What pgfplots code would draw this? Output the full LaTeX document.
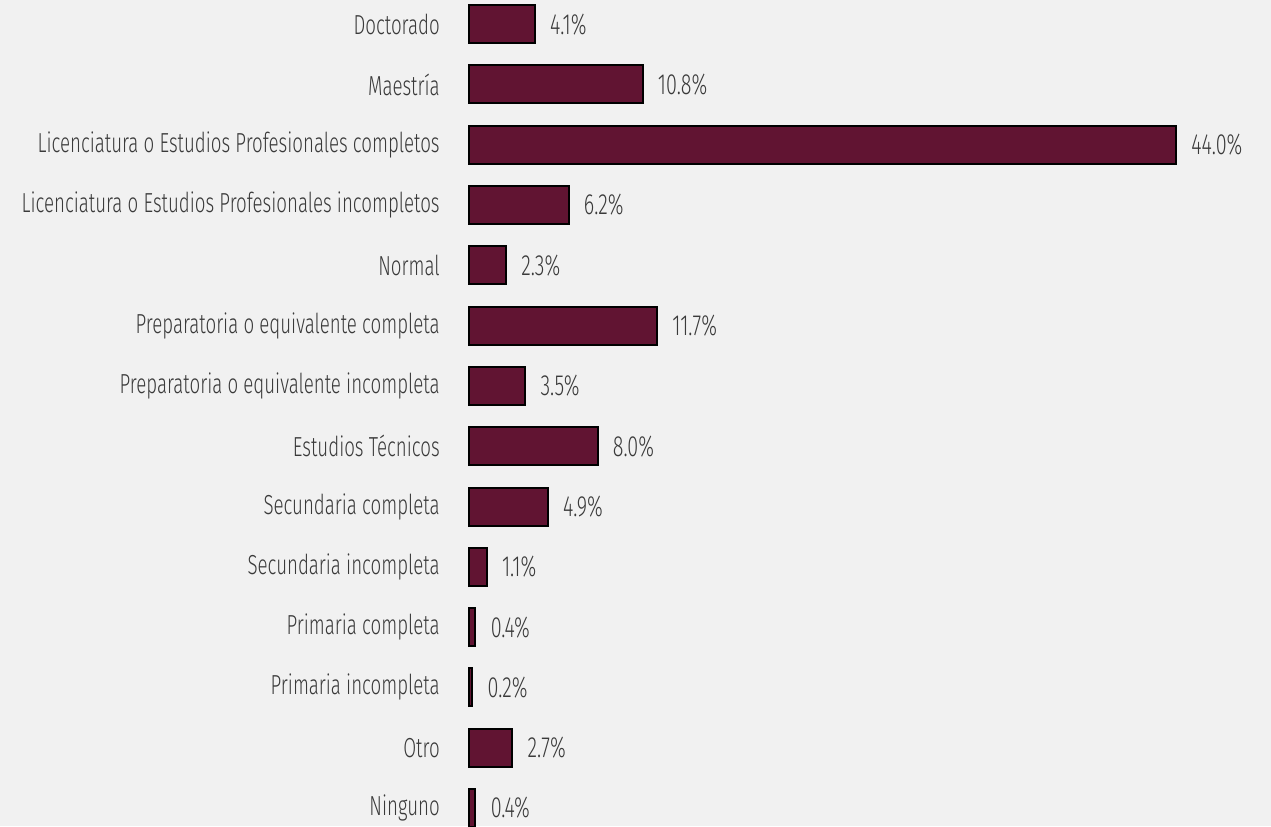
\documentclass[border=0pt]{standalone}
\usepackage{pgfplots}
\pgfplotsset{compat=1.18}
\usepackage{fontspec}
\setmainfont{Fira Sans}[UprightFont=* Light, FakeStretch=0.68]
\definecolor{barc}{HTML}{611432}
\definecolor{txt}{HTML}{3A3A3A}
\definecolor{bg}{HTML}{F1F1F1}
\begin{document}
\begin{tikzpicture}
\path[use as bounding box, fill=bg] (0,0) rectangle (762.6pt,495.6pt);
\begin{axis}[
  at={(281.4pt,-7.29pt)}, anchor=south west,
  scale only axis, width=424.2pt, height=506.52pt,
  xmin=0, xmax=44, ymin=-0.5, ymax=13.5, y dir=reverse,
  xbar, bar width=22.8pt,
  axis line style={draw=none},
  xtick=\empty, major tick length=0pt,
  ytick={0,...,13},
  yticklabels={Doctorado,Maestría,Licenciatura o Estudios Profesionales completos,Licenciatura o Estudios Profesionales incompletos,Normal,Preparatoria o equivalente completa,Preparatoria o equivalente incompleta,Estudios Técnicos,Secundaria completa,Secundaria incompleta,Primaria completa,Primaria incompleta,Otro,Ninguno},
  yticklabel style={anchor=east, inner sep=0pt, xshift=-17.4pt, text=txt, font=\fontsize{16.5pt}{19pt}\selectfont},
  /pgf/number format/assume math mode=true,
  point meta=x,
  nodes near coords={\pgfmathprintnumber[fixed,fixed zerofill,precision=1]{\pgfplotspointmeta}\%},
  nodes near coords style={anchor=west, inner sep=0pt, xshift=8.6pt, text=txt, font=\fontsize{17.5pt}{20pt}\selectfont},
  clip=false,
]
\addplot[fill=barc, draw=black, line width=1.2pt] coordinates {
(4.1,0) (10.8,1) (44.0,2) (6.2,3) (2.3,4) (11.7,5) (3.5,6) (8.0,7) (4.9,8) (1.1,9) (0.4,10) (0.2,11) (2.7,12) (0.4,13)
};
\end{axis}
\end{tikzpicture}
\end{document}
